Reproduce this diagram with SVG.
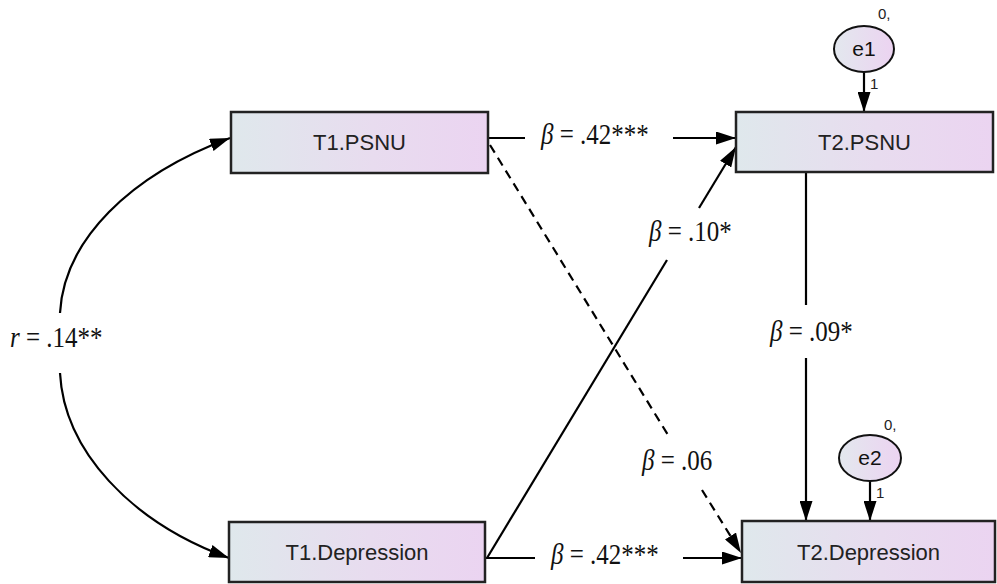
<svg xmlns="http://www.w3.org/2000/svg" width="997" height="584" viewBox="0 0 997 584">
<defs>
<linearGradient id="boxGrad" x1="0" y1="0" x2="1" y2="0">
<stop offset="0" stop-color="#dfe8ec"/>
<stop offset="0.55" stop-color="#e8dcef"/>
<stop offset="1" stop-color="#ebd4f1"/>
</linearGradient>
<linearGradient id="ellGrad" x1="0" y1="0" x2="1" y2="0">
<stop offset="0" stop-color="#e3e8ee"/>
<stop offset="1" stop-color="#ecd3f1"/>
</linearGradient>
<marker id="arr" viewBox="0 0 20 13" refX="20" refY="6.5" markerWidth="20" markerHeight="13" markerUnits="userSpaceOnUse" orient="auto">
<path d="M0,0 L20,6.5 L0,13 z" fill="#000"/>
</marker>
</defs>
<style>
.box{fill:url(#boxGrad);stroke:#222;stroke-width:2.5}
.ell{fill:url(#ellGrad);stroke:#111;stroke-width:2}
.nt{font-family:"Liberation Sans",Arial,sans-serif;font-size:22px;fill:#222;text-anchor:middle}
.et{font-family:"Liberation Sans",Arial,sans-serif;font-size:21px;fill:#111;text-anchor:middle}
.sm{font-family:"Liberation Sans",Arial,sans-serif;font-size:15px;fill:#222}
.lab{font-family:"Liberation Serif","Times New Roman",serif;font-size:25px;fill:#111}
.it{font-style:italic}
.ln{fill:none;stroke:#000;stroke-width:2.2}
.dash{stroke-dasharray:9 6}
</style>
<rect width="997" height="584" fill="#fff"/>

<g id="connectors">
<line class="ln" x1="488" y1="138" x2="525" y2="138"/>
<line class="ln" x1="673" y1="138" x2="736" y2="138" marker-end="url(#arr)"/>
<line class="ln" x1="487" y1="558" x2="667" y2="260"/>
<line class="ln" x1="699" y1="208" x2="736" y2="147" marker-end="url(#arr)"/>
<line class="ln dash" x1="490" y1="145" x2="668" y2="435"/>
<line class="ln dash" x1="702" y1="490" x2="741" y2="553" marker-end="url(#arr)"/>
<line class="ln" x1="485" y1="558" x2="535" y2="558"/>
<line class="ln" x1="683" y1="558" x2="742" y2="558" marker-end="url(#arr)"/>
<line class="ln" x1="806" y1="172" x2="806" y2="305"/>
<line class="ln" x1="806" y1="358" x2="806" y2="521" marker-end="url(#arr)"/>
<line class="ln" x1="864" y1="72" x2="864" y2="112" marker-end="url(#arr)"/>
<line class="ln" x1="870" y1="481" x2="870" y2="521" marker-end="url(#arr)"/>
<path class="ln" d="M60,313 C64,240 130,175 230,138" marker-end="url(#arr)"/>
<path class="ln" d="M60,373 C64,450 130,522 229,558" marker-end="url(#arr)"/>
</g>

<g id="labels">
<text class="lab" transform="translate(541,144) scale(1,1.2)"><tspan class="it">β</tspan> = .42***</text>
<text class="lab" transform="translate(649,241) scale(1,1.2)"><tspan class="it">β</tspan> = .10*</text>
<text class="lab" transform="translate(770,341) scale(1,1.2)"><tspan class="it">β</tspan> = .09*</text>
<text class="lab" transform="translate(642,470) scale(1,1.2)"><tspan class="it">β</tspan> = .06</text>
<text class="lab" transform="translate(551,564) scale(1,1.2)"><tspan class="it">β</tspan> = .42***</text>
<text class="lab" transform="translate(10,347) scale(1,1.2)"><tspan class="it">r</tspan> = .14**</text>
<text class="sm" x="870" y="89">1</text>
<text class="sm" x="876" y="498">1</text>
</g>

<g id="T1PSNU">
<rect class="box" x="231" y="112" width="257" height="61"/>
<text class="nt" x="359.5" y="150">T1.PSNU</text>
</g>
<g id="T1Depression">
<rect class="box" x="229" y="522" width="256" height="60"/>
<text class="nt" x="357" y="560">T1.Depression</text>
</g>
<g id="T2PSNU">
<rect class="box" x="736" y="112" width="257" height="60"/>
<text class="nt" x="864.5" y="150">T2.PSNU</text>
</g>
<g id="T2Depression">
<rect class="box" x="742" y="521" width="253" height="61"/>
<text class="nt" x="868.5" y="560">T2.Depression</text>
</g>
<g id="e1">
<ellipse class="ell" cx="864" cy="49" rx="30" ry="23"/>
<text class="et" x="864" y="56">e1</text>
<text class="sm" x="878" y="19">0,</text>
</g>
<g id="e2">
<ellipse class="ell" cx="870" cy="458" rx="31" ry="23"/>
<text class="et" x="870" y="465">e2</text>
<text class="sm" x="884" y="430">0,</text>
</g>
</svg>
